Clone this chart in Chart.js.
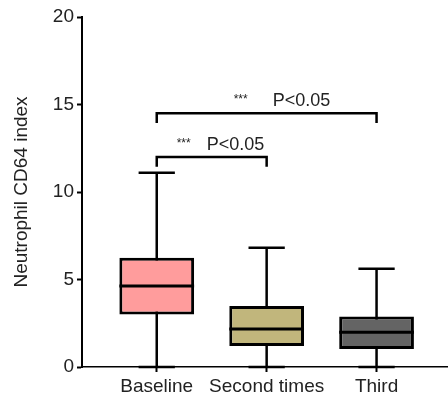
<!DOCTYPE html>
<html lang="en">
<head>
  <meta charset="UTF-8">
  <title>Neutrophil CD64 index</title>
  <script src="https://cdn.jsdelivr.net/npm/chart.js"></script>
  <style>
    html, body { margin: 0; padding: 0; background: #fff; }
    #wrap { width: 448px; height: 395px; }
  </style>
</head>
<body>
  <div id="wrap"><canvas id="boxChart"></canvas></div>

<script>
// data
const categories = ['Baseline', 'Second times', 'Third'];
const minVals = [0, 0, 0];
const q1Vals = [3.0, 1.2, 1.03];
const medianVals = [4.63, 2.17, 1.98];
const q3Vals = [6.25, 3.49, 2.88];
const maxVals = [11.1, 6.82, 5.62];
const boxColors = ['#ff9c9c', '#c1b67c', '#646464'];

const yTicks = [0, 5, 10, 15, 20];

// significance brackets
const bracketFrom = [1, 1];
const bracketTo = [2, 3];
const bracketLevel = [12.0, 14.5];
const bracketStars = ['***', '***'];
const bracketText = ['P<0.05', 'P<0.05'];

const FONT = '"Liberation Sans", Arial, sans-serif';

// whiskers, medians and brackets drawn through the chart scales
const boxExtras = {
  id: 'boxExtras',
  beforeDatasetsDraw(chart) {
    const ctx = chart.ctx, xs = chart.scales.x, ys = chart.scales.y;
    ctx.save();
    ctx.strokeStyle = '#000';
    ctx.lineWidth = 2.5;
    categories.forEach((c, i) => {
      const x = xs.getPixelForValue(i + 1);
      const half = xs.getPixelForValue(i + 1.165) - x;
      ctx.beginPath();
      ctx.moveTo(x, ys.getPixelForValue(minVals[i]));
      ctx.lineTo(x, ys.getPixelForValue(maxVals[i]));
      [minVals[i], maxVals[i]].forEach(v => {
        const y = ys.getPixelForValue(v);
        ctx.moveTo(x - half, y);
        ctx.lineTo(x + half, y);
      });
      ctx.stroke();
    });
    ctx.restore();
  },
  afterDatasetsDraw(chart) {
    const ctx = chart.ctx, xs = chart.scales.x, ys = chart.scales.y;
    ctx.save();
    ctx.strokeStyle = '#000';
    ctx.lineWidth = 3;
    categories.forEach((c, i) => {
      const bar = chart.getDatasetMeta(0).data[i];
      const y = ys.getPixelForValue(medianVals[i]);
      ctx.beginPath();
      ctx.moveTo(bar.x - bar.width / 2, y);
      ctx.lineTo(bar.x + bar.width / 2, y);
      ctx.stroke();
    });

    // brackets
    const starOffset = [-28, -26];
    const textOffset = [-5, 6];
    ctx.lineWidth = 2.5;
    ctx.lineJoin = 'miter';
    bracketLevel.forEach((lvl, k) => {
      const x1 = xs.getPixelForValue(bracketFrom[k]);
      const x2 = xs.getPixelForValue(bracketTo[k]);
      const y = ys.getPixelForValue(lvl);
      const drop = ys.getPixelForValue(lvl - 0.55) - y;
      ctx.beginPath();
      ctx.moveTo(x1, y + drop);
      ctx.lineTo(x1, y);
      ctx.lineTo(x2, y);
      ctx.lineTo(x2, y + drop);
      ctx.stroke();

      const mid = (x1 + x2) / 2;
      ctx.fillStyle = '#222';
      ctx.textBaseline = 'alphabetic';
      ctx.textAlign = 'center';
      ctx.font = '12px ' + FONT;
      ctx.fillText(bracketStars[k], mid + starOffset[k], y - 10);
      ctx.textAlign = 'left';
      ctx.font = '18px ' + FONT;
      ctx.fillText(bracketText[k], mid + textOffset[k], y - 7);
    });
    ctx.restore();
  }
};

new Chart(document.getElementById('boxChart'), {
  type: 'bar',
  data: {
    datasets: [{
      data: categories.map((c, i) => ({ x: i + 1, y: [q1Vals[i], q3Vals[i]] })),
      backgroundColor: boxColors,
      borderColor: '#000',
      borderWidth: 3,
      borderSkipped: false,
      categoryPercentage: 1,
      barPercentage: 0.68
    }]
  },
  options: {
    responsive: true,
    maintainAspectRatio: false,
    animation: false,
    layout: { padding: { top: 17, right: 0, bottom: 0, left: 0 } },
    plugins: {
      legend: { display: false },
      tooltip: { enabled: false }
    },
    scales: {
      x: {
        type: 'linear',
        offset: false,
        min: 0.32,
        max: 3.65,
        afterBuildTicks: axis => { axis.ticks = categories.map((c, i) => ({ value: i + 1 })); },
        afterFit: axis => { axis.height = 28; },
        grid: { offset: false, drawOnChartArea: false, tickLength: 5, tickWidth: 2, tickColor: '#000' },
        border: { color: '#000', width: 1.5 },
        ticks: {
          color: '#222',
          padding: 3,
          maxRotation: 0,
          autoSkip: false,
          font: { family: FONT, size: 19 },
          callback: v => categories[v - 1]
        }
      },
      y: {
        min: 0,
        max: 20,
        afterBuildTicks: axis => { axis.ticks = yTicks.map(v => ({ value: v })); },
        afterFit: axis => { axis.width = 82; },
        grid: { drawOnChartArea: false, tickLength: 5, tickWidth: 2, tickColor: '#000' },
        border: { color: '#000', width: 2 },
        ticks: {
          color: '#222',
          padding: 3,
          font: { family: FONT, size: 19 }
        },
        title: {
          display: true,
          text: 'Neutrophil CD64 index',
          color: '#222',
          padding: { top: 10, bottom: 0 },
          font: { family: FONT, size: 19 }
        }
      }
    }
  },
  plugins: [boxExtras]
});
</script>
</body>
</html>
